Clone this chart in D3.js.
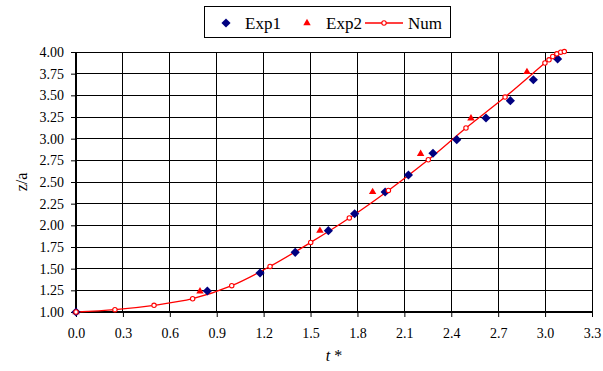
<html>
<head>
<style>
  body { margin: 0; background: #fff; }
  svg text { font-family: "Liberation Serif", "Times New Roman", serif; fill: #000; }
</style>
<script src="https://cdn.jsdelivr.net/npm/d3@7"></script>
</head>
<body>
<svg id="chart" width="603" height="371"></svg>
<script>
// values
var xTicks = [0.0, 0.3, 0.6, 0.9, 1.2, 1.5, 1.8, 2.1, 2.4, 2.7, 3.0, 3.3];
var yTicks = [1.00, 1.25, 1.50, 1.75, 2.00, 2.25, 2.50, 2.75, 3.00, 3.25, 3.50, 3.75, 4.00];

var exp1T = [0, 0.84, 1.177, 1.402, 1.614, 1.782, 1.977, 2.126, 2.283, 2.435, 2.622, 2.778, 2.925, 3.08];
var exp1Z = [1.0, 1.242, 1.45, 1.688, 1.938, 2.134, 2.385, 2.581, 2.832, 2.988, 3.238, 3.438, 3.68, 3.92];

var exp2T = [0, 0.793, 1.56, 1.897, 2.204, 2.526, 2.884];
var exp2Z = [1.0, 1.238, 1.938, 2.385, 2.826, 3.234, 3.77];

var numT = [0, 0.249, 0.499, 0.746, 0.996, 1.241, 1.501, 1.748, 1.998, 2.253, 2.494, 2.744, 2.999, 3.025, 3.049, 3.075, 3.100, 3.123];
var numZ = [1.0, 1.027, 1.077, 1.153, 1.304, 1.526, 1.803, 2.085, 2.403, 2.757, 3.123, 3.48, 3.873, 3.91, 3.948, 3.979, 3.998, 4.005];

var svg = d3.select("#chart");
var pLeft = 76, pRight = 592, pTop = 52, pBottom = 312;

var x = d3.scaleLinear().domain([0, 3.3]).range([pLeft, pRight]);
var y = d3.scaleLinear().domain([1, 4]).range([pBottom, pTop]);

function zip(a, b) { return a.map(function(d, i) { return [d, b[i]]; }); }

// grid
var grid = svg.append("g").attr("shape-rendering", "crispEdges");
grid.selectAll("line.gx").data(xTicks).enter().append("line")
    .attr("x1", function(d) { return x(d); }).attr("x2", function(d) { return x(d); })
    .attr("y1", pTop).attr("y2", pBottom)
    .attr("stroke", "#000").attr("stroke-width", 1);
grid.selectAll("line.gy").data(yTicks).enter().append("line")
    .attr("x1", pLeft).attr("x2", pRight)
    .attr("y1", function(d) { return y(d); }).attr("y2", function(d) { return y(d); })
    .attr("stroke", "#000").attr("stroke-width", 1);

// axes
var xAxis = d3.axisBottom(x).tickValues(xTicks).tickSize(5).tickPadding(11)
    .tickFormat(d3.format(".1f"));
var yAxis = d3.axisLeft(y).tickValues(yTicks).tickSize(5).tickPadding(7)
    .tickFormat(d3.format(".2f"));

var gx = svg.append("g").attr("transform", "translate(0," + pBottom + ")").call(xAxis);
var gy = svg.append("g").attr("transform", "translate(" + pLeft + ",0)").call(yAxis);
[gx, gy].forEach(function(g) {
  g.attr("font-family", null);
  g.selectAll(".tick line").attr("stroke", "#000");
  g.selectAll(".tick text").attr("font-size", 14).attr("fill", "#000");
});
gx.select(".domain").attr("d", "M" + pLeft + ",0H" + pRight).attr("stroke", "#000").attr("stroke-width", 2);
gy.select(".domain").attr("d", "M0," + pBottom + "V" + pTop).attr("stroke", "#000").attr("stroke-width", 2);

// axis titles
svg.append("text").attr("transform", "translate(27," + ((pTop + pBottom) / 2) + ") rotate(-90)")
    .attr("text-anchor", "middle").attr("font-size", 16).text("z/a");
svg.append("text").attr("x", (pLeft + pRight) / 2).attr("y", 361)
    .attr("text-anchor", "middle").attr("font-size", 16)
    .html('<tspan font-style="italic">t</tspan> *');

// numeric line
var line = d3.line().x(function(d) { return x(d[0]); }).y(function(d) { return y(d[1]); })
    .curve(d3.curveCatmullRom);
var numData = zip(numT, numZ);
svg.append("path").datum(numData).attr("d", line)
    .attr("fill", "none").attr("stroke", "#ff0000").attr("stroke-width", 1.3);

var diamond = d3.symbol().type(d3.symbolSquare).size(42)();
var tri = d3.symbol().type(d3.symbolTriangle).size(24)();

// Exp2 triangles
svg.selectAll("path.e2").data(zip(exp2T, exp2Z)).enter().append("path")
    .attr("d", tri)
    .attr("transform", function(d) { return "translate(" + x(d[0]) + "," + y(d[1]) + ")"; })
    .attr("fill", "#ff0000");

// Exp1 diamonds
svg.selectAll("path.e1").data(zip(exp1T, exp1Z)).enter().append("path")
    .attr("d", diamond)
    .attr("transform", function(d) { return "translate(" + x(d[0]) + "," + y(d[1]) + ") rotate(45)"; })
    .attr("fill", "#000080");

// Num circles
svg.selectAll("circle.n").data(numData).enter().append("circle")
    .attr("cx", function(d) { return x(d[0]); }).attr("cy", function(d) { return y(d[1]); })
    .attr("r", 2.2).attr("fill", "#fff").attr("stroke", "#ff0000").attr("stroke-width", 1.1);

// legend
var lg = svg.append("g");
lg.append("rect").attr("x", 204.5).attr("y", 6.5).attr("width", 246).attr("height", 31)
    .attr("fill", "#fff").attr("stroke", "#000").attr("stroke-width", 1);
var ly = 23;
lg.append("path").attr("d", diamond)
    .attr("transform", "translate(226," + ly + ") rotate(45)").attr("fill", "#000080");
lg.append("text").attr("x", 245).attr("y", ly + 6).attr("font-size", 17).text("Exp1");
lg.append("path").attr("d", tri)
    .attr("transform", "translate(307," + ly + ")").attr("fill", "#ff0000");
lg.append("text").attr("x", 326).attr("y", ly + 6).attr("font-size", 17).text("Exp2");
lg.append("line").attr("x1", 365).attr("x2", 403).attr("y1", ly).attr("y2", ly)
    .attr("stroke", "#ff0000").attr("stroke-width", 1.3);
lg.append("circle").attr("cx", 384).attr("cy", ly).attr("r", 2.2)
    .attr("fill", "#fff").attr("stroke", "#ff0000").attr("stroke-width", 1.1);
lg.append("text").attr("x", 408).attr("y", ly + 6).attr("font-size", 17).text("Num");
</script>
</body>
</html>
